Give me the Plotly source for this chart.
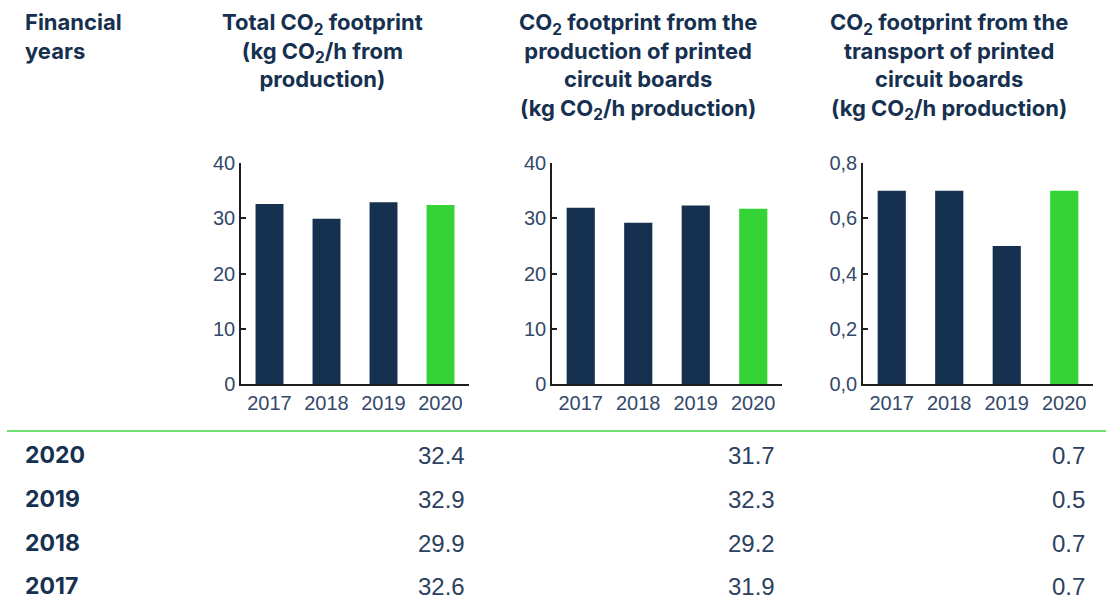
import plotly.graph_objects as go

# ---- data ----
years = ["2017", "2018", "2019", "2020"]
total_co2 = [32.6, 29.9, 32.9, 32.4]
production_co2 = [31.9, 29.2, 32.3, 31.7]
transport_co2 = [0.7, 0.7, 0.5, 0.7]

big_ticks = [0, 10, 20, 30, 40]
big_ticktext = ["0", "10", "20", "30", "40"]
small_ticks = [0, 0.2, 0.4, 0.6, 0.8]
small_ticktext = ["0,0", "0,2", "0,4", "0,6", "0,8"]

headers = [
    "Total CO<sub>2</sub> footprint<br>(kg CO<sub>2</sub>/h from<br>production)",
    "CO<sub>2</sub> footprint from the<br>production of printed<br>circuit boards<br>(kg CO<sub>2</sub>/h production)",
    "CO<sub>2</sub> footprint from the<br>transport of printed<br>circuit boards<br>(kg CO<sub>2</sub>/h production)",
]
first_header = "Financial<br>years"

# ---- style ----
W, H = 1106, 602
NAVY = "#16304f"
GREEN = "#36d336"
TICK_COLOR = "#34496a"
VAL_COLOR = "#2c4160"
AXIS_COLOR = "#1e1e1e"
HEAD_FONT = "Inter"
NUM_FONT = "Liberation Sans"

bar_colors = [NAVY, NAVY, NAVY, GREEN]

def px_x(p):
    return p / W

def px_y(p):
    return 1 - p / H

domains = [(241, 469), (552, 782), (863, 1093)]
y_dom = [px_y(384), px_y(163)]
series = [total_co2, production_co2, transport_co2]
yranges = [[0, 40], [0, 40], [0, 0.8]]
ytv = [big_ticks, big_ticks, small_ticks]
ytt = [big_ticktext, big_ticktext, small_ticktext]

fig = go.Figure()
layout = dict(
    template="none",
    width=W, height=H,
    margin=dict(l=0, r=0, t=0, b=0, pad=0, autoexpand=False),
    paper_bgcolor="white", plot_bgcolor="white",
    showlegend=False,
    bargap=0.51,
)

for i, (vals, dom) in enumerate(zip(series, domains)):
    sfx = "" if i == 0 else str(i + 1)
    fig.add_trace(go.Bar(
        x=years, y=vals,
        marker=dict(color=bar_colors, line=dict(width=0)),
        xaxis="x" + sfx, yaxis="y" + sfx,
        hoverinfo="x+y",
    ))
    layout["xaxis" + sfx] = dict(
        domain=[px_x(dom[0]), px_x(dom[1])],
        anchor="y" + sfx,
        type="category",
        range=[-0.5, 3.5],
        automargin=False,
        showline=True, linecolor=AXIS_COLOR, linewidth=1.5,
        ticks="", showgrid=False, zeroline=False,
        tickfont=dict(family=NUM_FONT, size=20, color=TICK_COLOR),
    )
    layout["yaxis" + sfx] = dict(
        domain=y_dom,
        anchor="x" + sfx,
        range=yranges[i],
        automargin=False,
        tickvals=ytv[i], ticktext=ytt[i],
        showline=True, linecolor=AXIS_COLOR, linewidth=1.5,
        ticks="inside", ticklen=5, tickwidth=1.5, tickcolor=AXIS_COLOR,
        showgrid=False, zeroline=False,
        tickfont=dict(family=NUM_FONT, size=20, color=TICK_COLOR),
    )

fig.update_layout(**layout)

annotations = []
# headers
annotations.append(dict(
    x=px_x(23), y=px_y(7), xref="paper", yref="paper",
    xanchor="left", yanchor="top", align="left", showarrow=False,
    text=first_header,
    font=dict(family=HEAD_FONT, size=22, color=NAVY, weight="bold"),
))
head_centers = [322, 638, 949]
for txt, cx in zip(headers, head_centers):
    annotations.append(dict(
        x=px_x(cx), y=px_y(7), xref="paper", yref="paper",
        xanchor="center", yanchor="top", align="center", showarrow=False,
        text=txt,
        font=dict(family=HEAD_FONT, size=22, color=NAVY, weight="bold"),
    ))

# table
row_y = [455, 499, 543, 586]
val_right = [467, 777, 1087]
for r, idx in enumerate(reversed(range(len(years)))):
    annotations.append(dict(
        x=px_x(23), y=px_y(row_y[r]), xref="paper", yref="paper",
        xanchor="left", yanchor="middle", showarrow=False,
        text=years[idx],
        font=dict(family=HEAD_FONT, size=23, color=NAVY, weight="bold"),
    ))
    for c, vals in enumerate(series):
        annotations.append(dict(
            x=px_x(val_right[c]), y=px_y(row_y[r]), xref="paper", yref="paper",
            xanchor="right", yanchor="middle", showarrow=False,
            text=f"{vals[idx]:.1f}",
            font=dict(family=NUM_FONT, size=24, color=VAL_COLOR),
        ))

fig.update_layout(
    annotations=annotations,
    shapes=[dict(
        type="line", xref="paper", yref="paper",
        x0=px_x(7), x1=1, y0=px_y(431), y1=px_y(431),
        line=dict(color="#6ee06e", width=2),
    )],
)

fig.write_html(
    "out.html",
    config={"displayModeBar": False},
    post_script="document.body.style.margin='0';document.body.style.overflow='hidden';",
)
